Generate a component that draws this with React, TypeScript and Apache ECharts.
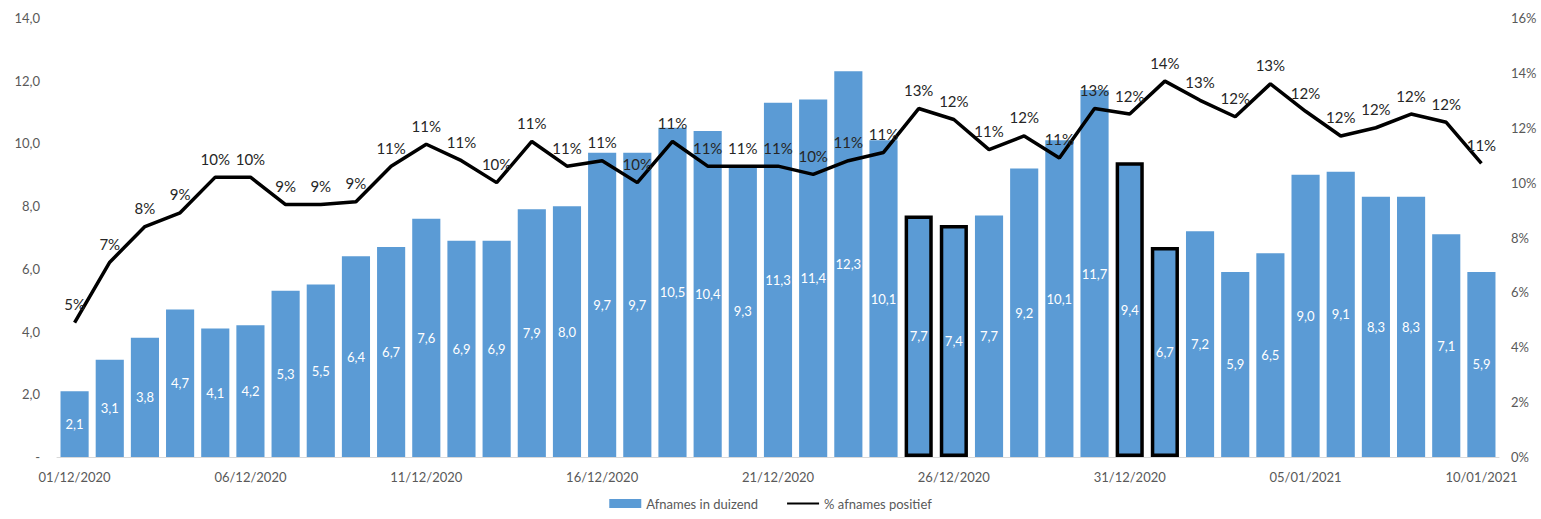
import React, { useEffect, useRef } from "react";
import * as echarts from "echarts";

const dates = [
  "01/12/2020","02/12/2020","03/12/2020","04/12/2020","05/12/2020","06/12/2020","07/12/2020","08/12/2020","09/12/2020","10/12/2020",
  "11/12/2020","12/12/2020","13/12/2020","14/12/2020","15/12/2020","16/12/2020","17/12/2020","18/12/2020","19/12/2020","20/12/2020",
  "21/12/2020","22/12/2020","23/12/2020","24/12/2020","25/12/2020","26/12/2020","27/12/2020","28/12/2020","29/12/2020","30/12/2020",
  "31/12/2020","01/01/2021","02/01/2021","03/01/2021","04/01/2021","05/01/2021","06/01/2021","07/01/2021","08/01/2021","09/01/2021",
  "10/01/2021",
];
const afnames = [
  2.1, 3.1, 3.8, 4.7, 4.1, 4.2, 5.3, 5.5, 6.4, 6.7,
  7.6, 6.9, 6.9, 7.9, 8.0, 9.7, 9.7, 10.5, 10.4, 9.3,
  11.3, 11.4, 12.3, 10.1, 7.7, 7.4, 7.7, 9.2, 10.1, 11.7,
  9.4, 6.7, 7.2, 5.9, 6.5, 9.0, 9.1, 8.3, 8.3, 7.1,
  5.9,
];
const positief = [
  4.9, 7.1, 8.4, 8.9, 10.2, 10.2, 9.2, 9.2, 9.3, 10.6,
  11.4, 10.8, 10.0, 11.5, 10.6, 10.8, 10.0, 11.5, 10.6, 10.6,
  10.6, 10.3, 10.8, 11.1, 12.7, 12.3, 11.2, 11.7, 10.9, 12.7,
  12.5, 13.7, 13.0, 12.4, 13.6, 12.6, 11.7, 12.0, 12.5, 12.2,
  10.7,
];
const positiefLabels = [
  "5%","7%","8%","9%","10%","10%","9%","9%","9%","11%",
  "11%","11%","10%","11%","11%","11%","10%","11%","11%","11%",
  "11%","10%","11%","11%","13%","12%","11%","12%","11%","13%",
  "12%","14%","13%","12%","13%","12%","12%","12%","12%","12%",
  "11%",
];
const outlined = ["25/12/2020", "26/12/2020", "31/12/2020", "01/01/2021"];

const FONT = "Lato, 'Open Sans', sans-serif";

export default function App() {
  const ref = useRef<HTMLDivElement>(null);
  useEffect(() => {
    if (!ref.current) return;
    const chart = echarts.init(ref.current, null, { renderer: "svg" });
    chart.setOption({
      animation: false,
      textStyle: { fontFamily: FONT },
      grid: { left: 57, right: 42, top: 18, bottom: 62, containLabel: false },
      legend: {
        bottom: 4,
        left: "center",
        itemGap: 28,
        itemWidth: 32,
        itemHeight: 9,
        textStyle: { color: "#595959", fontSize: 13, fontFamily: FONT },
        data: [
          { name: "Afnames in duizend", icon: "rect" },
          { name: "% afnames positief", itemStyle: { opacity: 0 } },
        ],
      },
      xAxis: {
        type: "category",
        data: dates,
        axisLine: { show: true, lineStyle: { color: "#d9d9d9", width: 1 } },
        axisTick: { show: false },
        axisLabel: {
          interval: 4,
          color: "#595959",
          fontSize: 13,
          margin: 13,
          fontFamily: FONT,
        },
      },
      yAxis: [
        {
          type: "value",
          min: 0,
          max: 14,
          interval: 2,
          splitLine: { show: false },
          axisLine: { show: false },
          axisTick: { show: false },
          axisLabel: {
            color: "#595959",
            fontSize: 13,
            margin: 17,
            fontFamily: FONT,
            formatter: (v: number) => (v === 0 ? "-" : v.toFixed(1).replace(".", ",")),
          },
        },
        {
          type: "value",
          min: 0,
          max: 16,
          interval: 2,
          splitLine: { show: false },
          axisLine: { show: false },
          axisTick: { show: false },
          axisLabel: {
            color: "#595959",
            fontSize: 13,
            margin: 12,
            fontFamily: FONT,
            formatter: (v: number) => v + "%",
          },
        },
      ],
      series: [
        {
          name: "Afnames in duizend",
          type: "bar",
          yAxisIndex: 0,
          barCategoryGap: "20%",
          itemStyle: { color: "#5B9BD5" },
          data: afnames.map((v, i) =>
            outlined.includes(dates[i])
              ? { value: v, itemStyle: { color: "#5B9BD5", borderColor: "#000", borderWidth: 3.5 } }
              : v
          ),
          label: {
            show: true,
            position: "inside",
            color: "#ffffff",
            fontSize: 13,
            fontFamily: FONT,
            formatter: (p: any) => Number(p.value).toFixed(1).replace(".", ","),
          },
        },
        {
          name: "% afnames positief",
          type: "line",
          yAxisIndex: 1,
          data: positief,
          symbol: "circle",
          symbolSize: 0,
          showSymbol: true,
          lineStyle: { color: "#000", width: 3.5 },
          itemStyle: { color: "#000" },
          label: {
            show: true,
            position: "top",
            distance: 11,
            color: "#262626",
            fontSize: 15,
            fontFamily: FONT,
            formatter: (p: any) => positiefLabels[p.dataIndex],
          },
          z: 5,
        },
      ],
    });
    return () => chart.dispose();
  }, []);
  return (
    <div
      ref={ref}
      style={{ position: "absolute", left: 0, top: 0, width: 1541, height: 519 }}
    />
  );
}
